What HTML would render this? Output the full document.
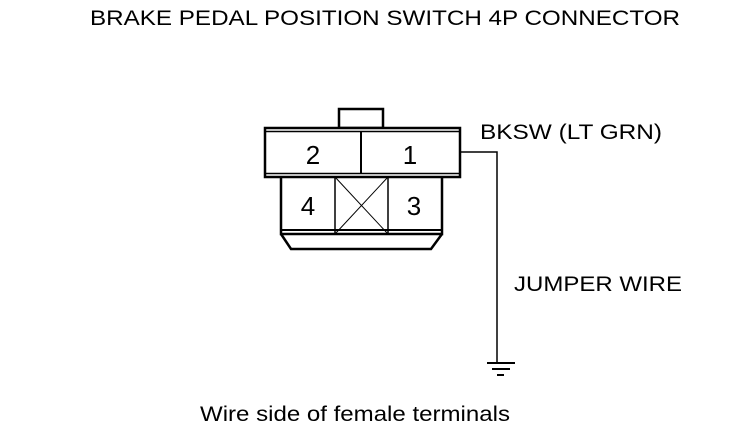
<!DOCTYPE html>
<html><head><style>body{margin:0;background:#fff}svg{display:block}</style></head><body>
<svg width="736" height="432" xmlns="http://www.w3.org/2000/svg" font-family="Liberation Sans, sans-serif">
<rect width="736" height="432" fill="#fff"/>
<text x="90" y="25" font-size="21" textLength="590" lengthAdjust="spacingAndGlyphs">BRAKE PEDAL POSITION SWITCH 4P CONNECTOR</text>
<g stroke="#000" fill="none" stroke-width="2.5">
<rect x="339" y="109" width="44" height="19" fill="#fff"/>
<rect x="265" y="128" width="195" height="49" fill="#fff"/>
<line x1="265" y1="131.5" x2="460" y2="131.5" stroke-width="1.5"/>
<line x1="265" y1="173.5" x2="460" y2="173.5" stroke-width="1.5"/>
<line x1="361" y1="131" x2="361" y2="174" stroke-width="2"/>
<path d="M281 177 V234 H442 V177"/>
<line x1="281" y1="230" x2="442" y2="230" stroke-width="2"/>
<rect x="335" y="177" width="53" height="57" stroke-width="1.5"/>
<line x1="335" y1="177" x2="388" y2="234" stroke-width="1"/>
<line x1="388" y1="177" x2="335" y2="234" stroke-width="1"/>
<path d="M281 234 L291 249 H431 L442 234"/>
<path d="M460 152 H497 V363" stroke-width="1.5"/>
<line x1="487" y1="363" x2="515" y2="363" stroke-width="2"/>
<line x1="492" y1="369" x2="510" y2="369" stroke-width="2"/>
<line x1="497" y1="375" x2="504" y2="375" stroke-width="2"/>
</g>
<g font-size="26" text-anchor="middle">
<text x="313" y="164">2</text>
<text x="410" y="164">1</text>
<text x="308" y="215">4</text>
<text x="414" y="215">3</text>
</g>
<text x="480" y="139" font-size="21" textLength="182" lengthAdjust="spacingAndGlyphs">BKSW (LT GRN)</text>
<text x="514" y="291" font-size="21" textLength="168" lengthAdjust="spacingAndGlyphs">JUMPER WIRE</text>
<text x="200" y="421" font-size="21" textLength="310" lengthAdjust="spacingAndGlyphs">Wire side of female terminals</text>
</svg>
</body></html>
